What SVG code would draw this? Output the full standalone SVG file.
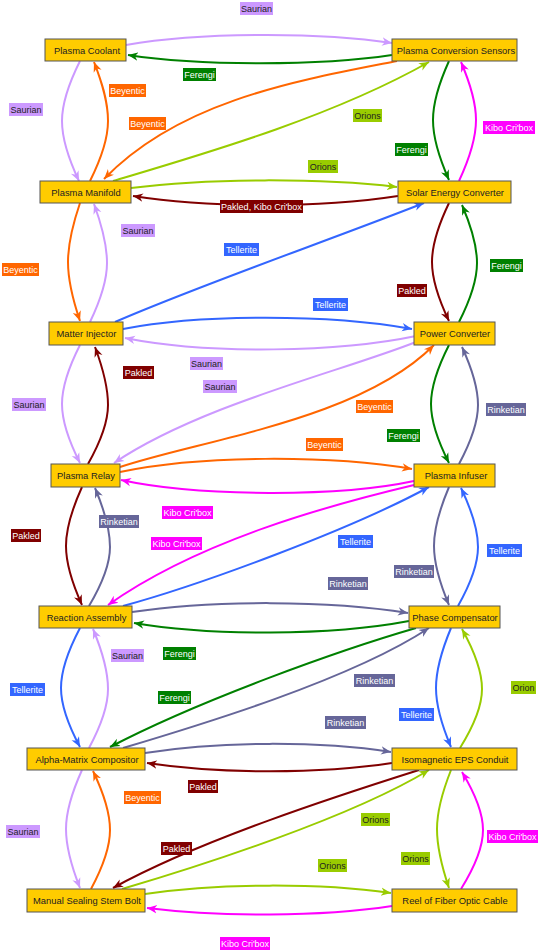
<svg xmlns="http://www.w3.org/2000/svg" width="539" height="951" viewBox="0 0 539 951">
<style>
.n rect{fill:#FFCC00;stroke:#555;stroke-width:1}
.n text{font-family:"Liberation Sans",Arial,sans-serif;font-size:9.4px;fill:#222;text-anchor:middle}
.e path{fill:none;stroke-width:2}
.sa{stroke:#CC99FF}.fe{stroke:#008000}.be{stroke:#FF6600}.or{stroke:#99CC00}.ki{stroke:#FF00FF}.pa{stroke:#800000}.te{stroke:#3366FF}.ri{stroke:#666699}
.l text{font-family:"Liberation Sans",Arial,sans-serif;font-size:9px;text-anchor:middle;fill:#fff}
.l text.d{fill:#222}
</style>
<defs>
<marker id="a-sa" viewBox="0 0 10 10" refX="10" refY="5" markerWidth="10" markerHeight="10" markerUnits="userSpaceOnUse" orient="auto"><path d="M0,0.8 L10,5 L0,9.2 L3,5 z" fill="#CC99FF"/></marker>
<marker id="a-fe" viewBox="0 0 10 10" refX="10" refY="5" markerWidth="10" markerHeight="10" markerUnits="userSpaceOnUse" orient="auto"><path d="M0,0.8 L10,5 L0,9.2 L3,5 z" fill="#008000"/></marker>
<marker id="a-be" viewBox="0 0 10 10" refX="10" refY="5" markerWidth="10" markerHeight="10" markerUnits="userSpaceOnUse" orient="auto"><path d="M0,0.8 L10,5 L0,9.2 L3,5 z" fill="#FF6600"/></marker>
<marker id="a-or" viewBox="0 0 10 10" refX="10" refY="5" markerWidth="10" markerHeight="10" markerUnits="userSpaceOnUse" orient="auto"><path d="M0,0.8 L10,5 L0,9.2 L3,5 z" fill="#99CC00"/></marker>
<marker id="a-ki" viewBox="0 0 10 10" refX="10" refY="5" markerWidth="10" markerHeight="10" markerUnits="userSpaceOnUse" orient="auto"><path d="M0,0.8 L10,5 L0,9.2 L3,5 z" fill="#FF00FF"/></marker>
<marker id="a-pa" viewBox="0 0 10 10" refX="10" refY="5" markerWidth="10" markerHeight="10" markerUnits="userSpaceOnUse" orient="auto"><path d="M0,0.8 L10,5 L0,9.2 L3,5 z" fill="#800000"/></marker>
<marker id="a-te" viewBox="0 0 10 10" refX="10" refY="5" markerWidth="10" markerHeight="10" markerUnits="userSpaceOnUse" orient="auto"><path d="M0,0.8 L10,5 L0,9.2 L3,5 z" fill="#3366FF"/></marker>
<marker id="a-ri" viewBox="0 0 10 10" refX="10" refY="5" markerWidth="10" markerHeight="10" markerUnits="userSpaceOnUse" orient="auto"><path d="M0,0.8 L10,5 L0,9.2 L3,5 z" fill="#666699"/></marker>
</defs>

<g id="connectors" class="e">
<path class="sa" marker-end="url(#a-sa)" d="M126,45 C200,32 320,32 392,43"/>
<path class="fe" marker-end="url(#a-fe)" d="M392,55 C320,66 200,66 128,55"/>
<path class="sa" marker-end="url(#a-sa)" d="M80,61 C71,79 62,100 62,121 C62,142 70.5,163 79,181"/>
<path class="be" marker-end="url(#a-be)" d="M90,181 C99,163 108,142 108,121 C108,100 101,80 94,62"/>
<path class="be" marker-end="url(#a-be)" d="M397,61 C300,80 180,100 104,179"/>
<path class="or" marker-end="url(#a-or)" d="M113,181 C200,155 330,118 429,62"/>
<path class="fe" marker-end="url(#a-fe)" d="M449,61 C441,78.7 433,99.3 433,120 C433,141 441,162 449,180"/>
<path class="ki" marker-end="url(#a-ki)" d="M459,181 C467.5,162.7 476,141.4 476,120 C476,99.2 468.5,79.5 461,62"/>
<path class="or" marker-end="url(#a-or)" d="M131,188 C210,178 320,178 397,187"/>
<path class="pa" marker-end="url(#a-pa)" d="M398,196 C320,208 210,208 133,196"/>
<path class="be" marker-end="url(#a-be)" d="M80,203 C74,220.7 68,241.4 68,262 C68,282.7 74,303.3 80,321"/>
<path class="sa" marker-end="url(#a-sa)" d="M90,322 C98.5,304.3 107,283.7 107,263 C107,242.4 100.5,221.7 94,204"/>
<path class="te" marker-end="url(#a-te)" d="M115,322 C200,285 330,240 424,203"/>
<path class="pa" marker-end="url(#a-pa)" d="M449,203 C440.5,220.7 432,241.4 432,262 C432,282.7 440.5,303.3 449,321"/>
<path class="fe" marker-end="url(#a-fe)" d="M459,322 C468,304.3 477,283.7 477,263 C477,242.7 469.5,222.4 462,205"/>
<path class="te" marker-end="url(#a-te)" d="M123,329 C200,314 330,314 412,329"/>
<path class="sa" marker-end="url(#a-sa)" d="M416,336 C340,352 210,355 125,338"/>
<path class="sa" marker-end="url(#a-sa)" d="M80,345 C71,362.7 62,383.4 62,404 C62,424.7 71,445.3 80,463"/>
<path class="pa" marker-end="url(#a-pa)" d="M88,464 C98,446.3 108,425.7 108,405 C108,384.7 101.5,364.4 95,347"/>
<path class="sa" marker-end="url(#a-sa)" d="M416,342 C340,372 200,405 114,463"/>
<path class="be" marker-end="url(#a-be)" d="M120,467 C200,440 360,420 434,345"/>
<path class="be" marker-end="url(#a-be)" d="M120,472 C200,455 330,455 412,469"/>
<path class="fe" marker-end="url(#a-fe)" d="M449,345 C440,362.7 431,383.4 431,404 C431,424.7 440,445.3 449,463"/>
<path class="ri" marker-end="url(#a-ri)" d="M459,464 C468.5,446.3 478,425.7 478,405 C478,384.7 470,364.4 462,347"/>
<path class="ki" marker-end="url(#a-ki)" d="M414,481 C340,497 200,497 121,480"/>
<path class="ki" marker-end="url(#a-ki)" d="M414,485 C330,505 200,540 108,605"/>
<path class="te" marker-end="url(#a-te)" d="M123,606 C200,585 350,530 429,487"/>
<path class="pa" marker-end="url(#a-pa)" d="M82,487 C74,504.7 66,525.4 66,546 C66,566.7 74,587.3 82,605"/>
<path class="ri" marker-end="url(#a-ri)" d="M89,606 C99.5,588.3 110,567.7 110,547 C110,526.4 102.5,505.7 95,488"/>
<path class="ri" marker-end="url(#a-ri)" d="M449,487 C441.5,504.7 434,525.4 434,546 C434,566.7 441.5,587.3 449,605"/>
<path class="te" marker-end="url(#a-te)" d="M458,606 C468,588.3 478,567.7 478,547 C478,526.4 469.5,505.7 461,488"/>
<path class="ri" marker-end="url(#a-ri)" d="M132,612 C210,600 330,600 408,613"/>
<path class="fe" marker-end="url(#a-fe)" d="M409,621 C330,636 210,636 134,623"/>
<path class="te" marker-end="url(#a-te)" d="M80,628 C70.5,646 61,667 61,688 C61,707.7 70.5,729.3 80,747"/>
<path class="sa" marker-end="url(#a-sa)" d="M89,748 C98.5,730.3 108,709.7 108,689 C108,668 100.5,647 93,629"/>
<path class="fe" marker-end="url(#a-fe)" d="M416,628 C340,650 200,700 110,747"/>
<path class="ri" marker-end="url(#a-ri)" d="M123,748 C200,725 350,680 429,628"/>
<path class="te" marker-end="url(#a-te)" d="M451,628 C443.5,646 436,667 436,688 C436,707.7 443.5,729.3 451,747"/>
<path class="or" marker-end="url(#a-or)" d="M460,748 C471,730.3 482,709.7 482,689 C482,668 472,647 462,629"/>
<path class="ri" marker-end="url(#a-ri)" d="M145,753 C220,741 320,741 391,752"/>
<path class="pa" marker-end="url(#a-pa)" d="M392,763 C320,774 220,774 147,763"/>
<path class="sa" marker-end="url(#a-sa)" d="M82,770 C74,787.7 66,808.4 66,829 C66,849.7 73,870.3 80,888"/>
<path class="be" marker-end="url(#a-be)" d="M91,889 C100.5,871.3 110,850.7 110,830 C110,809.4 101.5,788.7 93,771"/>
<path class="pa" marker-end="url(#a-pa)" d="M419,770 C340,795 200,840 113,888"/>
<path class="or" marker-end="url(#a-or)" d="M122,889 C200,866 350,818 429,770"/>
<path class="or" marker-end="url(#a-or)" d="M451,770 C444,787.7 437,808.4 437,829 C437,849.7 443,870.3 449,888"/>
<path class="ki" marker-end="url(#a-ki)" d="M461,889 C472,871.3 483,850.7 483,830 C483,809.7 472.5,789.4 462,772"/>
<path class="or" marker-end="url(#a-or)" d="M145,894 C220,883 320,883 391,893"/>
<path class="ki" marker-end="url(#a-ki)" d="M392,906 C320,917 220,917 147,908"/>
</g>

<g id="labels" class="l">
<rect x="240" y="2" width="33" height="13" fill="#CC99FF"/><text class="d" x="256.5" y="12">Saurian</text>
<rect x="183" y="68" width="33" height="13" fill="#008000"/><text x="199.5" y="78">Ferengi</text>
<rect x="109" y="84" width="37" height="13" fill="#FF6600"/><text x="127.5" y="94">Beyentic</text>
<rect x="9" y="103" width="34" height="13" fill="#CC99FF"/><text class="d" x="26" y="113">Saurian</text>
<rect x="129" y="117" width="37" height="13" fill="#FF6600"/><text x="147.5" y="127">Beyentic</text>
<rect x="353" y="109" width="29" height="13" fill="#99CC00"/><text class="d" x="367.5" y="119">Orions</text>
<rect x="483" y="121" width="52" height="13" fill="#FF00FF"/><text x="509" y="131">Kibo Cri'box</text>
<rect x="395" y="143" width="33" height="13" fill="#008000"/><text x="411.5" y="153">Ferengi</text>
<rect x="308" y="160" width="30" height="13" fill="#99CC00"/><text class="d" x="323" y="170">Orions</text>
<rect x="220" y="200" width="83" height="13" fill="#800000"/><text x="261.5" y="210">Pakled, Kibo Cri'box</text>
<rect x="121" y="224" width="34" height="13" fill="#CC99FF"/><text class="d" x="138" y="234">Saurian</text>
<rect x="224" y="243" width="35" height="13" fill="#3366FF"/><text x="241.5" y="253">Tellerite</text>
<rect x="490" y="259" width="33" height="13" fill="#008000"/><text x="506.5" y="269">Ferengi</text>
<rect x="2" y="263" width="37" height="13" fill="#FF6600"/><text x="20.5" y="273">Beyentic</text>
<rect x="397" y="284" width="30" height="13" fill="#800000"/><text x="412" y="294">Pakled</text>
<rect x="313" y="298" width="35" height="13" fill="#3366FF"/><text x="330.5" y="308">Tellerite</text>
<rect x="190" y="357" width="33" height="13" fill="#CC99FF"/><text class="d" x="206.5" y="367">Saurian</text>
<rect x="123" y="366" width="31" height="13" fill="#800000"/><text x="138.5" y="376">Pakled</text>
<rect x="203" y="380" width="34" height="13" fill="#CC99FF"/><text class="d" x="220" y="390">Saurian</text>
<rect x="12" y="398" width="34" height="13" fill="#CC99FF"/><text class="d" x="29" y="408">Saurian</text>
<rect x="356" y="400" width="37" height="13" fill="#FF6600"/><text x="374.5" y="410">Beyentic</text>
<rect x="486" y="403" width="40" height="13" fill="#666699"/><text x="506" y="413">Rinketian</text>
<rect x="387" y="429" width="33" height="13" fill="#008000"/><text x="403.5" y="439">Ferengi</text>
<rect x="306" y="438" width="37" height="13" fill="#FF6600"/><text x="324.5" y="448">Beyentic</text>
<rect x="162" y="506" width="51" height="13" fill="#FF00FF"/><text x="187.5" y="516">Kibo Cri'box</text>
<rect x="99" y="515" width="40" height="13" fill="#666699"/><text x="119" y="525">Rinketian</text>
<rect x="11" y="529" width="30" height="13" fill="#800000"/><text x="26" y="539">Pakled</text>
<rect x="338" y="535" width="35" height="13" fill="#3366FF"/><text x="355.5" y="545">Tellerite</text>
<rect x="151" y="537" width="51" height="13" fill="#FF00FF"/><text x="176.5" y="547">Kibo Cri'box</text>
<rect x="487" y="544" width="35" height="13" fill="#3366FF"/><text x="504.5" y="554">Tellerite</text>
<rect x="394" y="565" width="40" height="13" fill="#666699"/><text x="414" y="575">Rinketian</text>
<rect x="328" y="577" width="40" height="13" fill="#666699"/><text x="348" y="587">Rinketian</text>
<rect x="163" y="647" width="33" height="13" fill="#008000"/><text x="179.5" y="657">Ferengi</text>
<rect x="111" y="649" width="33" height="13" fill="#CC99FF"/><text class="d" x="127.5" y="659">Saurian</text>
<rect x="354" y="674" width="41" height="13" fill="#666699"/><text x="374.5" y="684">Rinketian</text>
<rect x="511" y="681" width="25" height="13" fill="#99CC00"/><text class="d" x="523.5" y="691">Orion</text>
<rect x="10" y="683" width="35" height="13" fill="#3366FF"/><text x="27.5" y="693">Tellerite</text>
<rect x="158" y="691" width="33" height="13" fill="#008000"/><text x="174.5" y="701">Ferengi</text>
<rect x="399" y="708" width="35" height="13" fill="#3366FF"/><text x="416.5" y="718">Tellerite</text>
<rect x="325" y="716" width="41" height="13" fill="#666699"/><text x="345.5" y="726">Rinketian</text>
<rect x="188" y="780" width="30" height="13" fill="#800000"/><text x="203" y="790">Pakled</text>
<rect x="124" y="791" width="37" height="13" fill="#FF6600"/><text x="142.5" y="801">Beyentic</text>
<rect x="361" y="813" width="29" height="13" fill="#99CC00"/><text class="d" x="375.5" y="823">Orions</text>
<rect x="6" y="825" width="34" height="13" fill="#CC99FF"/><text class="d" x="23" y="835">Saurian</text>
<rect x="487" y="830" width="51" height="13" fill="#FF00FF"/><text x="512.5" y="840">Kibo Cri'box</text>
<rect x="161" y="842" width="31" height="13" fill="#800000"/><text x="176.5" y="852">Pakled</text>
<rect x="401" y="852" width="29" height="13" fill="#99CC00"/><text class="d" x="415.5" y="862">Orions</text>
<rect x="318" y="859" width="29" height="13" fill="#99CC00"/><text class="d" x="332.5" y="869">Orions</text>
<rect x="220" y="937" width="50" height="13" fill="#FF00FF"/><text x="245" y="947">Kibo Cri'box</text>
</g>

<g id="plasma-coolant" class="n"><rect x="45" y="39" width="81" height="22"/><text x="87" y="53.5">Plasma Coolant</text></g>
<g id="plasma-conversion-sensors" class="n"><rect x="392" y="39" width="125" height="22"/><text x="456" y="53.5">Plasma Conversion Sensors</text></g>
<g id="plasma-manifold" class="n"><rect x="40" y="181" width="91" height="22"/><text x="86" y="195.5">Plasma Manifold</text></g>
<g id="solar-energy-converter" class="n"><rect x="398" y="181" width="113" height="22"/><text x="455" y="195.5">Solar Energy Converter</text></g>
<g id="matter-injector" class="n"><rect x="49" y="322" width="74" height="23"/><text x="86.5" y="337">Matter Injector</text></g>
<g id="power-converter" class="n"><rect x="414" y="322" width="81" height="23"/><text x="455" y="337">Power Converter</text></g>
<g id="plasma-relay" class="n"><rect x="51" y="464" width="69" height="23"/><text x="86" y="479">Plasma Relay</text></g>
<g id="plasma-infuser" class="n"><rect x="414" y="464" width="81" height="23"/><text x="456" y="479">Plasma Infuser</text></g>
<g id="reaction-assembly" class="n"><rect x="39" y="606" width="93" height="22"/><text x="86.5" y="620.5">Reaction Assembly</text></g>
<g id="phase-compensator" class="n"><rect x="409" y="606" width="91" height="22"/><text x="455" y="620.5">Phase Compensator</text></g>
<g id="alpha-matrix-compositor" class="n"><rect x="27" y="748" width="118" height="22"/><text x="87" y="762.5">Alpha-Matrix Compositor</text></g>
<g id="isomagnetic-eps-conduit" class="n"><rect x="392" y="748" width="125" height="22"/><text x="455" y="762.5">Isomagnetic EPS Conduit</text></g>
<g id="manual-sealing-stem-bolt" class="n"><rect x="27" y="889" width="118" height="23"/><text x="87" y="904">Manual Sealing Stem Bolt</text></g>
<g id="reel-of-fiber-optic-cable" class="n"><rect x="392" y="889" width="125" height="23"/><text x="455" y="904">Reel of Fiber Optic Cable</text></g>
</svg>
